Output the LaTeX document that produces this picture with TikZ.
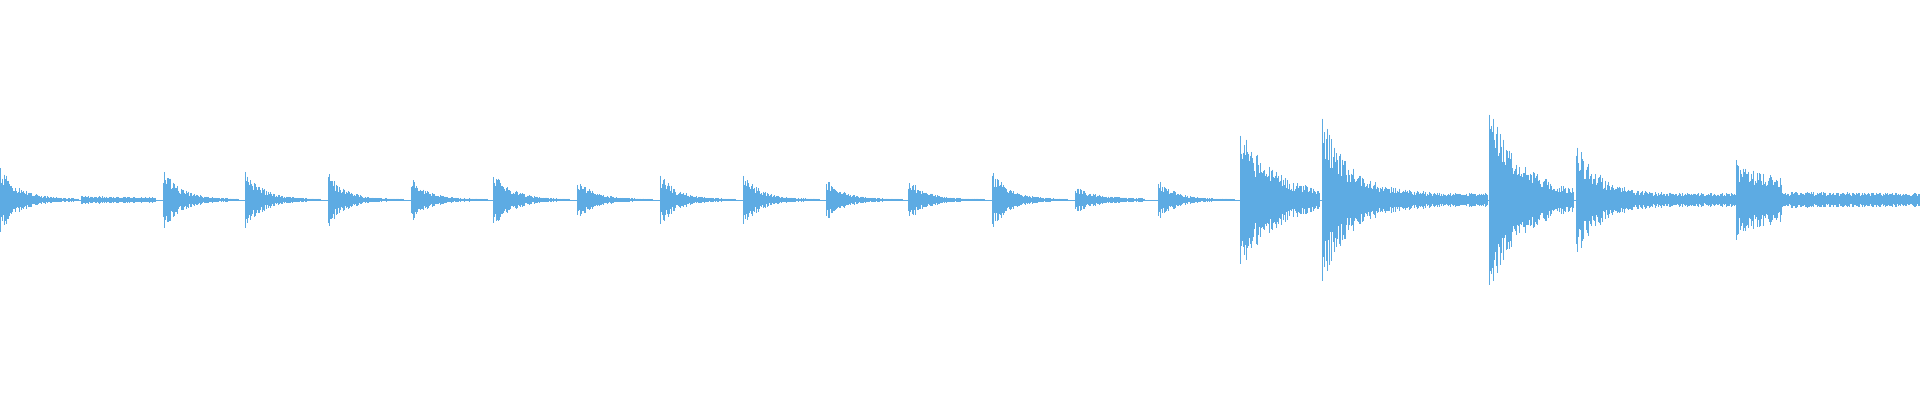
\documentclass[tikz,border=0pt]{standalone}
\definecolor{wave}{HTML}{5DABE3}
\newcommand\wburst[5]{%
 \pgfmathsetmacro\nn{int((#2-#1)/0.7)}%
 \foreach \i in {0,...,\nn}{%
  \pgfmathsetmacro\xx{#1+\i*0.7}%
  \pgfmathsetmacro\aa{(#3*exp(-\i*0.7/#4)+#5)*(0.45+0.55*rnd)+0.5}%
  \draw (\xx,\aa) -- (\xx,-\aa);}}
\begin{document}
\begin{tikzpicture}[x=1.2245pt,y=1.2245pt,line width=0.35pt,draw=wave]
\pgfmathsetseed{7}
\fill[white] (0,-163.3) rectangle (1568,163.3);
\useasboundingbox (0,-163.3) rectangle (1568,163.3);
\draw[wave] (0,0) -- (1568,0);
\wburst{0}{64}{27}{15}{0.3}
\wburst{66}{127}{3}{100}{0}
\wburst{133}{195}{27}{14}{0.2}
\wburst{200}{262}{25}{14}{0.2}
\wburst{268}{330}{22}{14}{0.2}
\wburst{336}{398}{17}{14}{0.2}
\wburst{403}{465}{26}{14}{0.2}
\wburst{471}{533}{17}{14}{0.2}
\wburst{539}{601}{21}{14}{0.2}
\wburst{607}{669}{21}{14}{0.2}
\wburst{675}{737}{17}{14}{0.2}
\wburst{742}{804}{17}{14}{0.2}
\wburst{810}{872}{24}{14}{0.2}
\wburst{878}{935}{10}{20}{0.2}
\wburst{946}{1008}{16}{14}{0.2}
\wburst{1013}{1078}{55}{30}{2}
\wburst{1080}{1215}{65}{22}{5}
\wburst{1216}{1285}{72}{28}{3}
\wburst{1287}{1418}{45}{18}{5}
\wburst{1418}{1455}{32}{60}{0}
\wburst{1455}{1568}{6}{1000}{0}
\end{tikzpicture}
\end{document}
